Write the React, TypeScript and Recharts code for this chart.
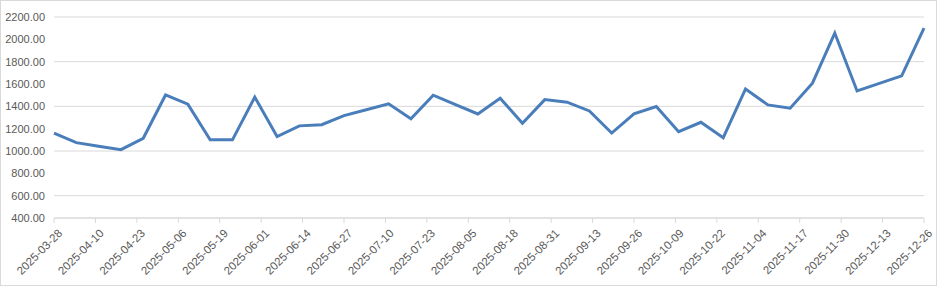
import React from "react";
import { LineChart, Line, XAxis, YAxis, CartesianGrid } from "recharts";

const dates = [
  "2025-03-28", "2025-04-04", "2025-04-11", "2025-04-18", "2025-04-25",
  "2025-05-02", "2025-05-09", "2025-05-16", "2025-05-23", "2025-05-30",
  "2025-06-06", "2025-06-13", "2025-06-20", "2025-06-27", "2025-07-04",
  "2025-07-11", "2025-07-18", "2025-07-25", "2025-08-01", "2025-08-08",
  "2025-08-15", "2025-08-22", "2025-08-29", "2025-09-05", "2025-09-12",
  "2025-09-19", "2025-09-26", "2025-10-03", "2025-10-10", "2025-10-17",
  "2025-10-24", "2025-10-31", "2025-11-07", "2025-11-14", "2025-11-21",
  "2025-11-28", "2025-12-05", "2025-12-12", "2025-12-19", "2025-12-26",
];

const values = [
  1160, 1075, 1042, 1012, 1114,
  1502, 1420, 1100, 1100, 1482,
  1130, 1225, 1236, 1317, 1370,
  1422, 1288, 1500, 1416, 1332,
  1473, 1248, 1460, 1437, 1359,
  1161, 1332, 1398, 1173, 1257,
  1119, 1556, 1413, 1383, 1607,
  2056, 1538, 1605, 1673, 2101,
];

const xTickLabels = [
  "2025-03-28", "2025-04-10", "2025-04-23", "2025-05-06", "2025-05-19",
  "2025-06-01", "2025-06-14", "2025-06-27", "2025-07-10", "2025-07-23",
  "2025-08-05", "2025-08-18", "2025-08-31", "2025-09-13", "2025-09-26",
  "2025-10-09", "2025-10-22", "2025-11-04", "2025-11-17", "2025-11-30",
  "2025-12-13", "2025-12-26",
];

const yTicks = [400, 600, 800, 1000, 1200, 1400, 1600, 1800, 2000, 2200];

const DAY = 86400000;
const toDay = (s: string) => Math.round(Date.parse(s + "T00:00:00Z") / DAY);
const fromDay = (d: number) => new Date(d * DAY).toISOString().slice(0, 10);

const data = dates.map((d, i) => ({ t: toDay(d), v: values[i] }));
const xTicks = xTickLabels.map(toDay);

const XTick = (props: any) => {
  const { x, y, payload } = props;
  return (
    <g transform={`translate(${x + 9},${y + 11})`}>
      <text
        x={0}
        y={0}
        textAnchor="end"
        transform="rotate(-45)"
        fill="#595959"
        fontSize={11.5}
        fontFamily="'Liberation Sans', Arial, sans-serif"
      >
        {fromDay(payload.value)}
      </text>
    </g>
  );
};

export default function App() {
  return (
    <div style={{ position: "relative", width: 938, height: 287 }}>
      <style>{`body{margin:0;}`}</style>
      <div
        style={{
          position: "absolute",
          left: 0,
          top: 0,
          width: 937,
          height: 286,
          border: "1px solid #d9d9d9",
          boxSizing: "border-box",
        }}
      />
      <div style={{ position: "absolute", left: 0, top: 0 }}>
        <LineChart
          width={936}
          height={285}
          data={data}
          margin={{ top: 17, right: 12, bottom: 0, left: 0 }}
        >
          <CartesianGrid vertical={false} stroke="#d9d9d9" strokeWidth={1} />
          <XAxis
            dataKey="t"
            type="number"
            domain={[xTicks[0], xTicks[xTicks.length - 1]]}
            ticks={xTicks}
            interval={0}
            height={67}
            tickSize={5}
            tickMargin={0}
            axisLine={{ stroke: "#d9d9d9" }}
            tickLine={{ stroke: "#d9d9d9" }}
            tick={<XTick />}
          />
          <YAxis
            domain={[400, 2200]}
            ticks={yTicks}
            width={54}
            axisLine={false}
            tickLine={false}
            tickSize={0}
            tickMargin={9}
            tickFormatter={(v: number) => v.toFixed(2)}
            tick={{
              fill: "#595959",
              fontSize: 11,
              fontFamily: "'Liberation Sans', Arial, sans-serif",
            }}
          />
          <Line
            type="linear"
            dataKey="v"
            stroke="#4A7EBB"
            strokeWidth={3}
            dot={false}
            isAnimationActive={false}
          />
        </LineChart>
      </div>
    </div>
  );
}
